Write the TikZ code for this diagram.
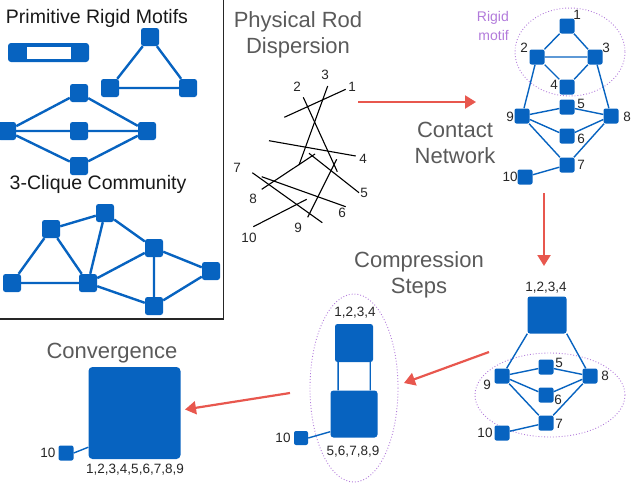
\documentclass[tikz,border=0pt]{standalone}
\usepackage{fontspec}
\setmainfont{Liberation Sans}
\usetikzlibrary{arrows.meta}
\definecolor{nblue}{HTML}{0763C0}
\definecolor{arred}{HTML}{E8574E}
\definecolor{mpurp}{HTML}{B27BDB}
\definecolor{tgray}{HTML}{5A5A5A}
\begin{document}
\begin{tikzpicture}[x=1pt,y=-1pt,
  bignd/.style={rectangle, fill=nblue, rounded corners=2.5pt, minimum size=18pt, inner sep=0pt},
  smnd/.style={rectangle, fill=nblue, rounded corners=2pt, minimum size=15pt, inner sep=0pt},
  tedge/.style={draw=nblue, line width=2.4pt},
  cedge/.style={draw=nblue, line width=1.4pt},
  rod/.style={draw=black, line width=1.1pt},
  num/.style={font=\fontsize{13.5}{15}\selectfont, text=black!85, inner sep=0pt},
  blacktitle/.style={font=\fontsize{19.5}{22}\selectfont, text=black!90, inner sep=0pt},
  graytitle/.style={font=\fontsize{22}{26}\selectfont, text=tgray, align=center, inner sep=0pt},
  motifring/.style={draw=mpurp, dotted, line width=0.9pt},
  redarrow/.style={draw=arred, line width=2.2pt, -{Triangle[width=13pt,length=11pt]}}
]
\useasboundingbox (0,0) rectangle (631,485);

% ---------- top-left box ----------
\draw[line width=1.3pt, black!85] (223.5,0) -- (223.5,319) -- (0,319);
\node[blacktitle] (tprim) at (97,18) {Primitive Rigid Motifs};
\node[blacktitle] (tclique) at (98,184) {3-Clique Community};

% rod motif
\node[rectangle, fill=nblue, rounded corners=3pt, minimum width=81pt, minimum height=19pt, inner sep=0pt] (rodo) at (48.5,52.5) {};
\node[rectangle, fill=white, minimum width=44pt, minimum height=12pt, inner sep=0pt] (rodi) at (48.7,52.8) {};

% triangle motif
\node[bignd] (ta) at (150,37) {};
\node[bignd] (tb) at (110,88) {};
\node[bignd] (tc) at (188,88) {};
\draw[tedge] (ta) -- (tb) (tb) -- (tc) (tc) -- (ta);

% diamond motif
\node[bignd] (dl) at (7,131) {};
\node[bignd] (dt) at (79,93) {};
\node[bignd] (dm) at (79,131) {};
\node[bignd] (dr) at (147,131) {};
\node[bignd] (db) at (79,166) {};
\draw[tedge] (dl) -- (dt) (dl) -- (dm) (dl) -- (db) (dt) -- (dr) (dm) -- (dr) (db) -- (dr);

% 3-clique community
\node[bignd] (ka) at (12,283) {};
\node[bignd] (kb) at (51,229) {};
\node[bignd] (kc) at (105,213) {};
\node[bignd] (kd) at (88,283) {};
\node[bignd] (ke) at (154,248) {};
\node[bignd] (kf) at (211,271) {};
\node[bignd] (kg) at (154,306) {};
\draw[tedge] (ka) -- (kb) (ka) -- (kd) (kb) -- (kd) (kb) -- (kc) (kc) -- (kd)
  (kc) -- (ke) (kd) -- (ke) (kd) -- (kg) (ke) -- (kg) (ke) -- (kf) (kf) -- (kg);

% ---------- physical rod dispersion ----------
\node[graytitle] (tphys) at (298,35) {Physical Rod\\Dispersion};
\draw[rod] (284.3,117.3) -- (345.7,89.3);
\draw[rod] (303.3,97.3) -- (337.3,171.7);
\draw[rod] (327.7,86) -- (299,165);
\draw[rod] (269,140.7) -- (355.7,156);
\draw[rod] (309,153.3) -- (359,192.7);
\draw[rod] (261.7,176.7) -- (345.7,206.7);
\draw[rod] (252.3,172.7) -- (322.3,222.7);
\draw[rod] (261.7,189.3) -- (315,154);
\draw[rod] (336.7,159.3) -- (307.7,217.3);
\draw[rod] (253.3,226.7) -- (306.7,199.3);
\node[num] (r1) at (352,87) {1};
\node[num] (r2) at (297,87) {2};
\node[num] (r3) at (325,75) {3};
\node[num] (r4) at (363,159) {4};
\node[num] (r5) at (364,193) {5};
\node[num] (r6) at (342,213) {6};
\node[num] (r7) at (237,168) {7};
\node[num] (r8) at (253,199) {8};
\node[num] (r9) at (298,228) {9};
\node[num] (r10) at (249,238) {10};

\coordinate (a1s) at (358,102);
\coordinate (a1e) at (476,102);
\draw[redarrow] (a1s) -- (a1e);

% ---------- contact network ----------
\node[graytitle] (tcont) at (455,142.5) {Contact\\Network};
\draw[motifring] (570,52) ellipse [x radius=55, y radius=44];
\node[font=\fontsize{14}{19}\selectfont, text=mpurp, align=right, anchor=east, inner sep=0pt] (trig) at (509,26) {Rigid\\motif};
\node[smnd] (n1) at (567,26) {};
\node[smnd] (n2) at (537,57) {};
\node[smnd] (n3) at (595,57) {};
\node[smnd] (n4) at (567,87) {};
\node[smnd] (n5) at (567,107) {};
\node[smnd] (n9) at (522,116) {};
\node[smnd] (n8) at (611,116) {};
\node[smnd] (n6) at (567,136) {};
\node[smnd] (n7) at (567,165) {};
\node[smnd] (n10) at (525,177) {};
\draw[cedge] (n1) -- (n2) (n1) -- (n3) (n2) -- (n3) (n2) -- (n4) (n3) -- (n4)
  (n2) -- (n9) (n3) -- (n8) (n9) -- (n5) (n5) -- (n8) (n9) -- (n6) (n6) -- (n8)
  (n9) -- (n7) (n7) -- (n8) (n7) -- (n10);
\node[num] (l1) at (577,15) {1};
\node[num] (l2) at (524,48) {2};
\node[num] (l3) at (606,48) {3};
\node[num] (l4) at (554,85) {4};
\node[num] (l5) at (581,104) {5};
\node[num] (l9) at (510,117) {9};
\node[num] (l8) at (627,117) {8};
\node[num] (l6) at (581,139) {6};
\node[num] (l7) at (581,165) {7};
\node[num] (l10) at (510,177) {10};

\coordinate (a2s) at (544,193);
\coordinate (a2e) at (544,266);
\draw[redarrow] (a2s) -- (a2e);

% ---------- compression step 1 ----------
\node[graytitle] (tcomp) at (419,275) {Compression\\Steps};
\draw[motifring] (550,395) ellipse [x radius=75, y radius=42];
\node[rectangle, fill=nblue, rounded corners=2.5pt, minimum width=39pt, minimum height=37pt, inner sep=0pt] (m1) at (547,315) {};
\node[smnd] (m5) at (546,367) {};
\node[smnd] (m9) at (502,376) {};
\node[smnd] (m8) at (590,376) {};
\node[smnd] (m6) at (546,395) {};
\node[smnd] (m7) at (546,423) {};
\node[smnd] (m10) at (502,433) {};
\draw[cedge] (m1.south west) -- (m9) (m1.south east) -- (m8) (m9) -- (m5) (m5) -- (m8)
  (m9) -- (m6) (m6) -- (m8) (m9) -- (m7) (m7) -- (m8) (m7) -- (m10);
\node[num] (ml1) at (546,288) {1,2,3,4};
\node[num] (ml5) at (559,363) {5};
\node[num] (ml9) at (487,385) {9};
\node[num] (ml8) at (605,376) {8};
\node[num] (ml6) at (558,400) {6};
\node[num] (ml7) at (559,424) {7};
\node[num] (ml10) at (485,433) {10};

\coordinate (a3s) at (489,352);
\coordinate (a3e) at (404,383);
\draw[redarrow] (a3s) -- (a3e);

% ---------- compression step 2 ----------
\draw[motifring] (354,388) ellipse [x radius=44, y radius=94];
\node[rectangle, fill=nblue, rounded corners=2.5pt, minimum size=38pt, inner sep=0pt] (c1) at (354,343) {};
\node[rectangle, fill=nblue, rounded corners=3pt, minimum size=47pt, inner sep=0pt] (c2) at (354,414) {};
\node[smnd, minimum size=14pt] (c10) at (301,438) {};
\draw[cedge] ([xshift=3.3pt]c1.south west) -- ([xshift=3.3pt]c1.south west |- c2.north)
  ([xshift=-3pt]c1.south east) -- ([xshift=-3pt]c1.south east |- c2.north)
  (c10.east) -- ([yshift=6pt]c2.south west);
\node[num] (cl1) at (355,313) {1,2,3,4};
\node[num] (cl2) at (353,452) {5,6,7,8,9};
\node[num] (cl10) at (283,438) {10};

\coordinate (a4s) at (290,393);
\coordinate (a4e) at (185,409.5);
\draw[redarrow] (a4s) -- (a4e);

% ---------- convergence ----------
\node[graytitle] (tconv) at (112,353) {Convergence};
\node[rectangle, fill=nblue, rounded corners=4pt, minimum size=92pt, inner sep=0pt] (v1) at (134.5,413) {};
\node[smnd] (v10) at (66,453) {};
\draw[cedge] (v10.east) -- ([yshift=12pt]v1.south west);
\node[num] (vl1) at (135,470) {1,2,3,4,5,6,7,8,9};
\node[num] (vl10) at (48,453) {10};
\end{tikzpicture}
\end{document}
